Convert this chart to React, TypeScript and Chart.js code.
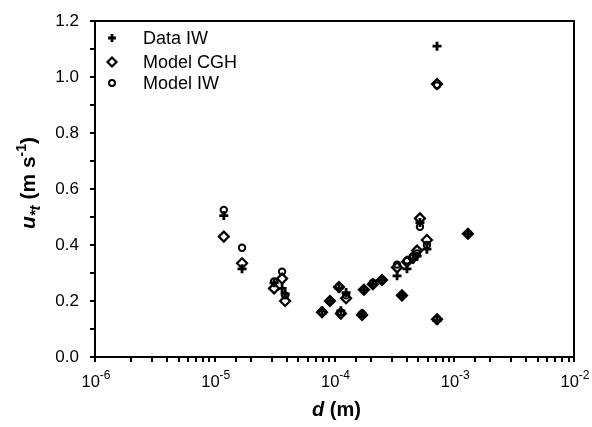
import React, { useEffect, useRef } from 'react';
import { Chart, registerables } from 'chart.js';

Chart.register(...registerables);

// Particle diameter d (m)
const diameters = [
  1.19e-5, 1.69e-5, 3.13e-5, 3.65e-5, 3.87e-5, 7.87e-5, 9.16e-5, 1.09e-4,
  1.13e-4, 1.25e-4, 1.7e-4, 1.76e-4, 2.09e-4, 2.49e-4, 3.33e-4, 3.66e-4,
  4.03e-4, 4.53e-4, 4.89e-4, 5.17e-4, 5.91e-4, 7.18e-4, 7.18e-4, 1.3e-3,
];
// Threshold friction velocity u*t (m s-1)
const dataIW = [
  0.505, 0.315, 0.265, 0.245, 0.225, 0.165, 0.2, 0.245, 0.165, 0.23, 0.155, 0.24,
  0.26, 0.275, 0.29, 0.22, 0.315, 0.35, 0.36, 0.48, 0.385, 1.11, 0.13, 0.44,
];
const modelCGH = [
  0.43, 0.335, 0.245, 0.28, 0.2, 0.16, 0.2, 0.25, 0.155, 0.21, 0.15, 0.24,
  0.26, 0.275, 0.32, 0.22, 0.34, 0.355, 0.38, 0.495, 0.418, 0.975, 0.135, 0.44,
];
const modelIW = [
  0.525, 0.39, 0.27, 0.305, 0.22, 0.162, 0.2, 0.25, 0.16, 0.22, 0.155, 0.24,
  0.265, 0.275, 0.33, 0.22, 0.345, 0.36, 0.37, 0.465, 0.4, 0.97, 0.135, 0.44,
];
const seriesNames = ['Data IW', 'Model CGH', 'Model IW'];
const xDecades = [-6, -5, -4, -3, -2];

const W = 592;
const H = 427;
const FONT = '"Liberation Sans", Arial, Helvetica, sans-serif';

type Part = { text: string; font: string; dy: number };

function drawParts(ctx: CanvasRenderingContext2D, parts: Part[], cx: number, baseY: number) {
  let total = 0;
  const widths = parts.map((p) => {
    ctx.font = p.font;
    const w = ctx.measureText(p.text).width;
    total += w;
    return w;
  });
  let x = cx - total / 2;
  ctx.textAlign = 'left';
  ctx.textBaseline = 'alphabetic';
  parts.forEach((p, i) => {
    ctx.font = p.font;
    ctx.fillText(p.text, x, baseY + p.dy);
    x += widths[i];
  });
}

function drawMarker(ctx: CanvasRenderingContext2D, kind: number, x: number, y: number) {
  ctx.save();
  ctx.strokeStyle = '#000';
  ctx.beginPath();
  if (kind === 0) {
    ctx.lineWidth = 2.8;
    ctx.moveTo(x - 4, y);
    ctx.lineTo(x + 4, y);
    ctx.moveTo(x, y - 4);
    ctx.lineTo(x, y + 4);
  } else if (kind === 1) {
    ctx.lineWidth = 2.2;
    ctx.moveTo(x - 4.5, y);
    ctx.lineTo(x, y - 4.5);
    ctx.lineTo(x + 4.5, y);
    ctx.lineTo(x, y + 4.5);
    ctx.closePath();
  } else {
    ctx.lineWidth = 2;
    ctx.arc(x, y, 3, 0, Math.PI * 2);
  }
  ctx.stroke();
  ctx.restore();
}

const customPlugin = {
  id: 'customDecor',
  afterDraw(chart: any) {
    const ctx: CanvasRenderingContext2D = chart.ctx;
    const a = chart.chartArea;
    const xs = chart.scales.x;
    ctx.save();
    // top & right frame
    ctx.strokeStyle = '#000';
    ctx.lineWidth = 2;
    ctx.beginPath();
    ctx.moveTo(a.left - 1, a.top);
    ctx.lineTo(a.right, a.top);
    ctx.lineTo(a.right, a.bottom + 1);
    ctx.stroke();

    ctx.fillStyle = '#000';
    // x tick labels 10^e
    xDecades.forEach((e) => {
      const px = xs.getPixelForValue(Math.pow(10, e));
      drawParts(
        ctx,
        [
          { text: '10', font: `16.5px ${FONT}`, dy: 0 },
          { text: String(e), font: `12px ${FONT}`, dy: -8 },
        ],
        px + 1,
        a.bottom + 30
      );
    });

    // x title
    drawParts(
      ctx,
      [
        { text: 'd', font: `italic bold 20px ${FONT}`, dy: 0 },
        { text: ' (m)', font: `bold 20px ${FONT}`, dy: 0 },
      ],
      (a.left + a.right) / 2 + 2,
      416
    );

    // y title (rotated)
    ctx.save();
    ctx.translate(35, (a.top + a.bottom) / 2 - 6);
    ctx.rotate(-Math.PI / 2);
    drawParts(
      ctx,
      [
        { text: 'u', font: `italic bold 21px ${FONT}`, dy: 0 },
        { text: '*t', font: `italic bold 15px ${FONT}`, dy: 5 },
        { text: ' (m s', font: `bold 21px ${FONT}`, dy: 0 },
        { text: '-1', font: `bold 14px ${FONT}`, dy: -9 },
        { text: ')', font: `bold 21px ${FONT}`, dy: 0 },
      ],
      0,
      0
    );
    ctx.restore();

    // legend
    const ly = [38, 62, 83];
    seriesNames.forEach((name, i) => {
      drawMarker(ctx, i, 112, ly[i]);
      ctx.font = `18px ${FONT}`;
      ctx.textAlign = 'left';
      ctx.textBaseline = 'middle';
      ctx.fillStyle = '#000';
      ctx.fillText(name, 143, ly[i] + 1);
    });
    ctx.restore();
  },
};

export default function App() {
  const ref = useRef<HTMLCanvasElement | null>(null);

  useEffect(() => {
    if (!ref.current) return;
    const mk = (vals: number[]) => diameters.map((d, i) => ({ x: d, y: vals[i] }));
    const chart = new Chart(ref.current, {
      type: 'scatter',
      data: {
        datasets: [
          {
            label: seriesNames[0],
            data: mk(dataIW),
            pointStyle: 'cross',
            pointRadius: 4.5,
            pointBorderWidth: 2.8,
            borderColor: '#000',
            backgroundColor: '#000',
          },
          {
            label: seriesNames[1],
            data: mk(modelCGH),
            pointStyle: 'rectRot',
            pointRadius: 5,
            pointBorderWidth: 2.2,
            borderColor: '#000',
            backgroundColor: 'rgba(0,0,0,0)',
          },
          {
            label: seriesNames[2],
            data: mk(modelIW),
            pointStyle: 'circle',
            pointRadius: 3.2,
            pointBorderWidth: 2,
            borderColor: '#000',
            backgroundColor: 'rgba(0,0,0,0)',
          },
        ],
      },
      options: {
        responsive: false,
        maintainAspectRatio: false,
        animation: false,
        devicePixelRatio: 1,
        layout: { padding: { top: 21, right: 18, left: 0, bottom: 0 } },
        plugins: { legend: { display: false }, tooltip: { enabled: false } },
        scales: {
          x: {
            type: 'logarithmic',
            min: 1e-6,
            max: 1e-2,
            ticks: { display: false },
            grid: {
              display: true,
              drawOnChartArea: false,
              drawTicks: true,
              tickLength: 5,
              color: '#000',
              lineWidth: 2,
            },
            border: { display: true, color: '#000', width: 2 },
            afterFit: (s: any) => {
              s.height = 70;
              s.paddingLeft = 0;
              s.paddingRight = 0;
            },
          },
          y: {
            type: 'linear',
            min: 0,
            max: 1.2,
            ticks: {
              stepSize: 0.1,
              autoSkip: false,
              padding: 11,
              color: '#000',
              font: { family: FONT, size: 17 },
              callback: (v: any) => {
                const n = Math.round(Number(v) * 10);
                return n % 2 === 0 ? (n / 10).toFixed(1) : '';
              },
            },
            grid: {
              display: true,
              drawOnChartArea: false,
              drawTicks: true,
              tickLength: 5,
              color: '#000',
              lineWidth: 2,
            },
            border: { display: true, color: '#000', width: 2 },
            afterFit: (s: any) => {
              s.width = 95;
              s.paddingTop = 0;
              s.paddingBottom = 0;
            },
          },
        },
      },
      plugins: [customPlugin],
    });
    return () => chart.destroy();
  }, []);

  return (
    <div style={{ position: 'fixed', left: 0, top: 0, width: W, height: H, background: '#fff' }}>
      <canvas ref={ref} width={W} height={H} style={{ display: 'block' }} />
    </div>
  );
}
